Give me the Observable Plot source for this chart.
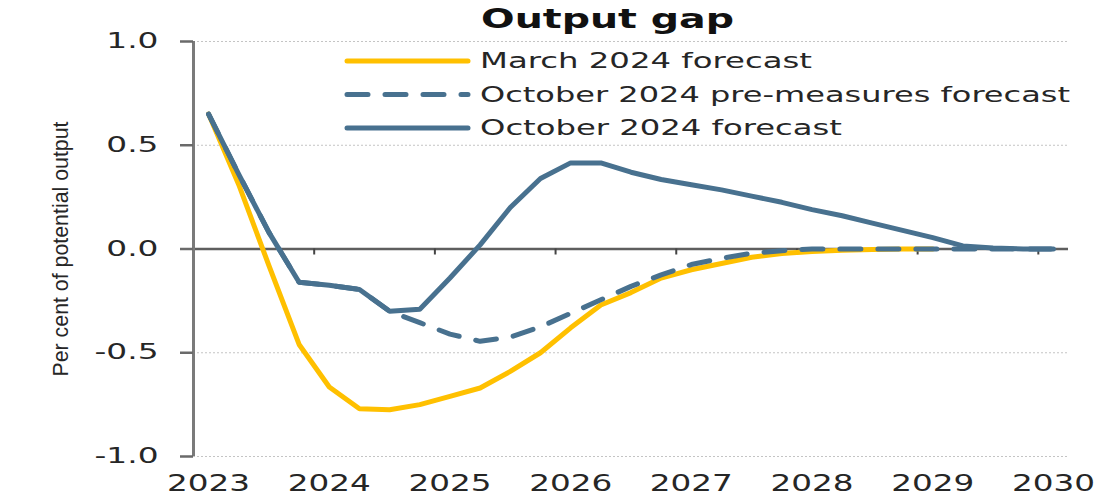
<!DOCTYPE html>
<html><head><meta charset="utf-8">
<script src="https://cdn.jsdelivr.net/npm/d3@7"></script>
<script src="https://cdn.jsdelivr.net/npm/@observablehq/plot@0.6"></script>
<style>
html,body{margin:0;padding:0;background:#fff;}
#chart{width:1099px;height:495px;position:relative;}
</style></head><body><div id="chart"></div>
<script>
// ---- data ----
const title = "Output gap";
const yLabel = "Per cent of potential output";
const seriesNames = ["March 2024 forecast", "October 2024 pre-measures forecast", "October 2024 forecast"];
const quarters = [
  "2023 Q1","2023 Q2","2023 Q3","2023 Q4",
  "2024 Q1","2024 Q2","2024 Q3","2024 Q4",
  "2025 Q1","2025 Q2","2025 Q3","2025 Q4",
  "2026 Q1","2026 Q2","2026 Q3","2026 Q4",
  "2027 Q1","2027 Q2","2027 Q3","2027 Q4",
  "2028 Q1","2028 Q2","2028 Q3","2028 Q4",
  "2029 Q1","2029 Q2","2029 Q3","2029 Q4",
  "2030 Q1"
];
const march2024 = [0.65, 0.31, -0.08, -0.46, -0.665, -0.77, -0.775, -0.75, -0.71, -0.67,
  -0.59, -0.50, -0.38, -0.27, -0.21, -0.14, -0.10, -0.07, -0.04, -0.022,
  -0.012, -0.006, -0.002, 0.0, 0.0];
const october2024Pre = [0.65, 0.36, 0.08, -0.16, -0.175, -0.195, -0.30, -0.355, -0.41, -0.445,
  -0.425, -0.375, -0.31, -0.245, -0.18, -0.125, -0.075, -0.045, -0.02, -0.008,
  0, 0, 0, 0, 0, 0, 0, 0, 0];
const october2024 = [0.65, 0.36, 0.08, -0.16, -0.175, -0.195, -0.30, -0.29, -0.14, 0.02,
  0.20, 0.34, 0.415, 0.415, 0.37, 0.335, 0.31, 0.285, 0.255, 0.225,
  0.19, 0.16, 0.125, 0.09, 0.055, 0.015, 0.005, 0, 0];
const yearTicks = [2023, 2024, 2025, 2026, 2027, 2028, 2029, 2030];
const yTicks = [-1.0, -0.5, 0.0, 0.5, 1.0];
const gridValues = [-1.0, -0.5, 0.5, 1.0];

// ---- styling ----
const colors = ["#FFC000", "#48718F", "#48718F"];
const dashes = [null, "21,17", null];
const textColor = "#262626";

// quarter label -> decimal year (category centre)
const toX = q => { const [y, qq] = q.split(" Q"); return +y + (+qq - 1) / 4; };
const xDomain = [toX(quarters[0]) - 0.125, toX(quarters[quarters.length - 1]) + 0.125];
const boundaries = yearTicks.slice(0, -1).map(y => y + 0.875);

const allSeries = [march2024, october2024Pre, october2024];
const lineData = allSeries.map((vals, k) => vals.map((v, i) => ({x: toX(quarters[i]), v, s: seriesNames[k]})));

const chart = Plot.plot({
  width: 1099, height: 495,
  marginLeft: 193, marginRight: 31, marginTop: 41, marginBottom: 39,
  style: {fontFamily: "'DejaVu Sans', sans-serif", background: "#fff", color: textColor},
  x: {domain: xDomain},
  y: {domain: [-1, 1]},
  marks: [
    Plot.ruleY(gridValues, {stroke: "#c4c4c4", strokeWidth: 1, strokeDasharray: "2,2"}),
    Plot.ruleY([0], {stroke: "#5e5e5e", strokeWidth: 2.5}),
    Plot.ruleX(boundaries, {x: d => d, y1: 0, y2: 0, insetBottom: -6, stroke: "#444", strokeWidth: 2}),
    Plot.ruleX([xDomain[0]], {stroke: "#7a7a7a", strokeWidth: 3}),
    Plot.axisY({ticks: yTicks, tickSize: 13, tickPadding: 22, tickFormat: d => d.toFixed(1),
      stroke: "#6a6a6a", strokeWidth: 2.5, fontSize: 20.5, label: null, fill: textColor}),
    Plot.axisX({ticks: yearTicks, tickSize: 0, tickPadding: 18, tickFormat: d => String(d),
      fontSize: 23, label: null, fill: textColor}),
    ...lineData.map((data, k) => Plot.line(data, {
      x: "x", y: "v", stroke: colors[k], strokeWidth: 5,
      strokeDasharray: dashes[k] || undefined,
      strokeLinejoin: "round", strokeLinecap: "round"
    })),
    Plot.text([yLabel], {frameAnchor: "left", dx: -133, rotate: -90, fontSize: 22, textAnchor: "middle",
      fontFamily: "'Liberation Sans Narrow', 'Liberation Sans', sans-serif", fill: textColor}),
    Plot.text([title], {frameAnchor: "top", dx: -23.5, dy: -14, lineAnchor: "bottom", textAnchor: "middle",
      fontSize: 27, fontWeight: "bold", fill: "#111"})
  ]
});
document.getElementById("chart").appendChild(chart);

// ---- legend ----
const svg = d3.select(chart);
const lg = svg.append("g").attr("aria-label", "legend");
const legendX0 = 347, legendX1 = 468, legendTextX = 480, legendY0 = 61, legendStep = 33.5;
const legendWidths = [332, 590, 362];
seriesNames.forEach((name, k) => {
  const y = legendY0 + k * legendStep;
  const ln = lg.append("line").attr("x1", legendX0).attr("x2", legendX1).attr("y1", y).attr("y2", y)
    .attr("stroke", colors[k]).attr("stroke-width", 5).attr("stroke-linecap", "round");
  if (dashes[k]) ln.attr("stroke-dasharray", dashes[k]);
  lg.append("text").attr("x", legendTextX).attr("y", y).attr("dy", "0.36em")
    .attr("text-anchor", "start")
    .attr("font-size", 20.5).attr("fill", textColor)
    .attr("textLength", legendWidths[k]).attr("lengthAdjust", "spacingAndGlyphs")
    .text(name);
});

// ---- stretch text horizontally like the reference ----
function fit(sel, fn) {
  sel.each(function () {
    const t = fn(this);
    this.setAttribute("textLength", t);
    this.setAttribute("lengthAdjust", "spacingAndGlyphs");
  });
}
const byText = s => svg.selectAll("text").filter(function () { return this.textContent === s; });
fit(svg.selectAll('[aria-label="y-axis tick label"] text'), el => el.getComputedTextLength() * 1.6);
fit(svg.selectAll('[aria-label="x-axis tick label"] text'), el => 83);
fit(byText(title), el => 253);
fit(byText(yLabel), el => 255);
</script>
</body></html>
